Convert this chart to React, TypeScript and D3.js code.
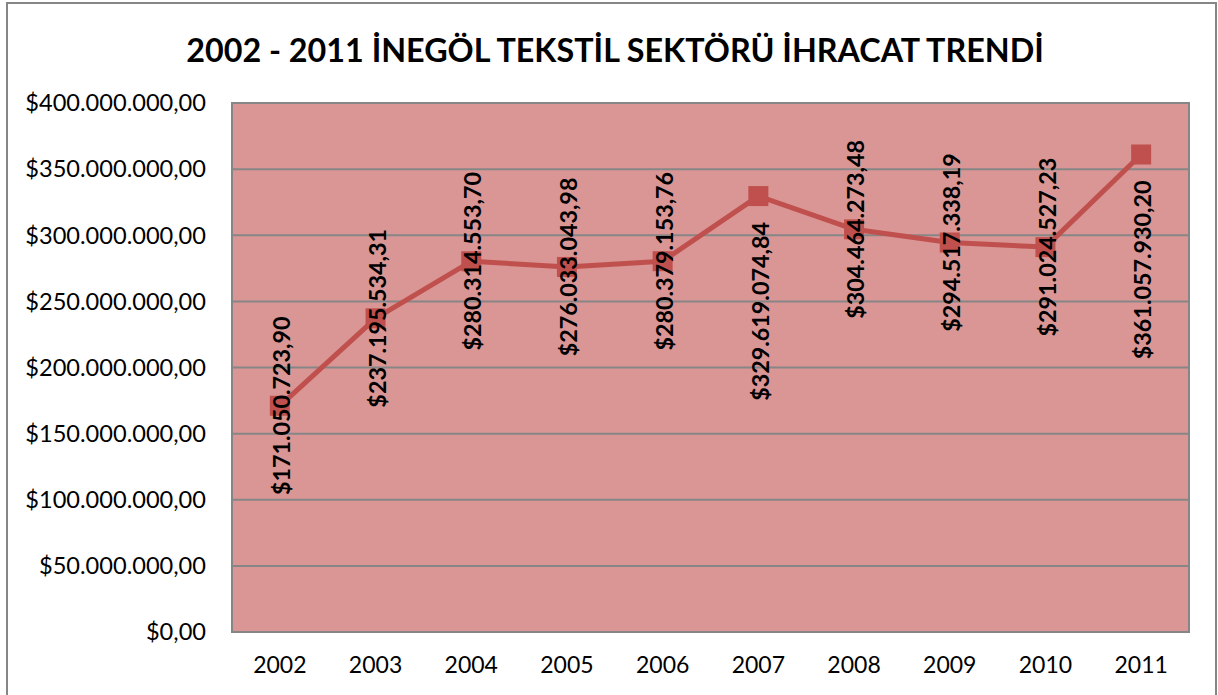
import React from "react";
import * as d3 from "d3";

const years = ["2002", "2003", "2004", "2005", "2006", "2007", "2008", "2009", "2010", "2011"];
const exports = [
  171050723.9, 237195534.31, 280314553.7, 276033043.98, 280379153.76,
  329619074.84, 304464273.48, 294517338.19, 291024527.23, 361057930.2,
];
const labelPlacement = ["center", "center", "center", "center", "center", "below", "center", "center", "center", "below"];
const yTicks = [0, 50e6, 100e6, 150e6, 200e6, 250e6, 300e6, 350e6, 400e6];
const title = "2002 - 2011 İNEGÖL TEKSTİL SEKTÖRÜ İHRACAT TRENDİ";

const W = 1218;
const H = 695;
const plot = { left: 232, right: 1189, top: 103, bottom: 632 };

const locale = d3.formatLocale({ decimal: ",", thousands: ".", grouping: [3], currency: ["$", ""] });
const fmt = locale.format("$,.2f");

export default function App() {
  const x = d3.scaleBand<string>().domain(years).range([plot.left, plot.right]);
  const y = d3.scaleLinear().domain([0, 400e6]).range([plot.bottom, plot.top]);
  const cx = (d: string) => (x(d) as number) + x.bandwidth() / 2;
  const line = d3
    .line<number>()
    .x((_, i) => cx(years[i]))
    .y((d) => y(d));
  const font = "Lato, 'Open Sans', sans-serif";
  const ms = 20;

  return (
    <svg
      width={W}
      height={H}
      style={{ position: "absolute", left: 0, top: 0, background: "#fff" }}
      fontFamily={font}
    >
      <rect x={7} y={3} width={1209} height={H + 10} fill="#fff" stroke="#868686" strokeWidth={2} />
      <text x={615} y={62} textAnchor="middle" fontSize={32.3} fontWeight="bold" fill="#000">
        {title}
      </text>
      <rect
        x={plot.left}
        y={plot.top}
        width={plot.right - plot.left}
        height={plot.bottom - plot.top}
        fill="#D99694"
      />
      {yTicks.map((t) => (
        <g key={t}>
          <line x1={plot.left} x2={plot.right} y1={y(t)} y2={y(t)} stroke="#868686" strokeWidth={2} />
          <text x={206} y={y(t)} dy="0.35em" textAnchor="end" fontSize={23.6} fill="#000">
            {fmt(t)}
          </text>
        </g>
      ))}
      <rect
        x={plot.left}
        y={plot.top}
        width={plot.right - plot.left}
        height={plot.bottom - plot.top}
        fill="none"
        stroke="#868686"
        strokeWidth={2}
      />
      {years.map((yr) => (
        <text key={yr} x={cx(yr)} y={673} textAnchor="middle" fontSize={23} fill="#000">
          {yr}
        </text>
      ))}
      <path d={line(exports) || ""} fill="none" stroke="#C0504D" strokeWidth={5} strokeLinejoin="round" />
      {exports.map((v, i) => (
        <rect
          key={i}
          x={cx(years[i]) - ms / 2}
          y={y(v) - ms / 2}
          width={ms}
          height={ms}
          fill="#C0504D"
        />
      ))}
      {exports.map((v, i) => {
        const px = cx(years[i]);
        const py = y(v);
        const below = labelPlacement[i] === "below";
        return (
          <text
            key={"l" + i}
            transform={`translate(${px + 2},${below ? py + 26 : py}) rotate(-90)`}
            textAnchor={below ? "end" : "middle"}
            dy="0.35em"
            fontSize={23.3}
            fontWeight="bold"
            fill="#000"
          >
            {fmt(v)}
          </text>
        );
      })}
    </svg>
  );
}
